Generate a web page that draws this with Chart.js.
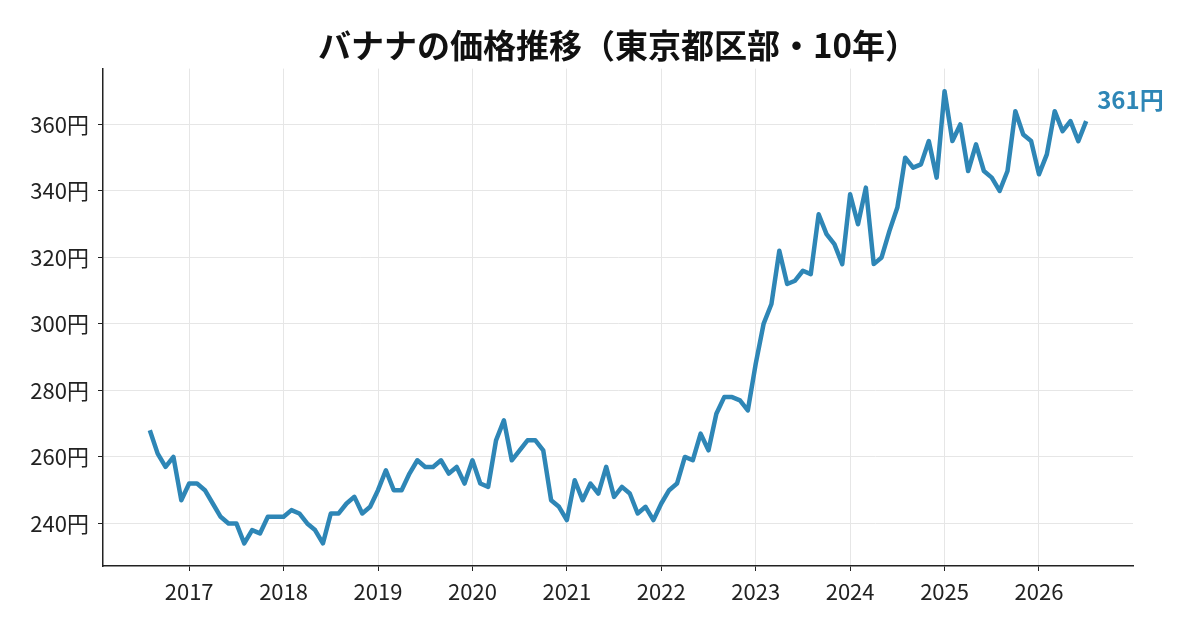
<!DOCTYPE html>
<html lang="ja">
<head>
<meta charset="utf-8">
<title>バナナの価格推移</title>
<script src="https://cdn.jsdelivr.net/npm/chart.js@4.4.1/dist/chart.umd.min.js"></script>
<style>
  html, body { margin: 0; padding: 0; background: #fff; }
  #wrap { width: 1200px; height: 630px; }
</style>
</head>
<body>
<div id="wrap"><canvas id="chart" width="1200" height="630"></canvas></div>
<script>
// monthly price, Aug 2016 .. Jul 2026 (yen)
const startYear = 2016;
const startMonth = 8;
const prices = [
  268, 261, 257, 260, 247,                                   // 2016 Aug-Dec
  252, 252, 250, 246, 242, 240, 240, 234, 238, 237, 242, 242, // 2017
  242, 244, 243, 240, 238, 234, 243, 243, 246, 248, 243, 245, // 2018
  250, 256, 250, 250, 255, 259, 257, 257, 259, 255, 257, 252, // 2019
  259, 252, 251, 265, 271, 259, 262, 265, 265, 262, 247, 245, // 2020
  241, 253, 247, 252, 249, 257, 248, 251, 249, 243, 245, 241, // 2021
  246, 250, 252, 260, 259, 267, 262, 273, 278, 278, 277, 274, // 2022
  288, 300, 306, 322, 312, 313, 316, 315, 333, 327, 324, 318, // 2023
  339, 330, 341, 318, 320, 328, 335, 350, 347, 348, 355, 344, // 2024
  370, 355, 360, 346, 354, 346, 344, 340, 346, 364, 357, 355, // 2025
  345, 351, 364, 358, 361, 355, 361                           // 2026 Jan-Jul
];
const yearTicks = [2017, 2018, 2019, 2020, 2021, 2022, 2023, 2024, 2025, 2026];
const priceTicks = [240, 260, 280, 300, 320, 340, 360];

const lineColor = "#2e86b6";
const fontFamily = "'Noto Sans CJK JP', 'Noto Sans', sans-serif";

// month index -> decimal year
const points = prices.map((p, i) => ({
  x: startYear + (startMonth - 1 + i) / 12,
  y: p
}));

// 5% margins like the original plot
const xFirst = points[0].x, xLast = points[points.length - 1].x;
const yLow = Math.min(...prices), yHigh = Math.max(...prices);
const xPad = (xLast - xFirst) * 0.05;
const yPad = (yHigh - yLow) * 0.05;

const endLabel = {
  id: "endLabel",
  afterDatasetsDraw(chart) {
    const meta = chart.getDatasetMeta(0);
    const last = meta.data[meta.data.length - 1];
    const ctx = chart.ctx;
    ctx.save();
    ctx.font = "bold 24px " + fontFamily;
    ctx.fillStyle = lineColor;
    ctx.textBaseline = "middle";
    ctx.fillText(prices[prices.length - 1] + "円", last.x + 11, last.y - 21);
    ctx.restore();
  }
};

new Chart(document.getElementById("chart"), {
  type: "line",
  plugins: [endLabel],
  data: {
    datasets: [
      {
        data: points,
        borderColor: lineColor,
        borderWidth: 4.5,
        pointRadius: 0,
        tension: 0,
        borderJoinStyle: "round",
      },
    ],
  },
  options: {
    responsive: false,
    animation: false,
    layout: { padding: { left: 0, right: 67, top: 0, bottom: 0 } },
    plugins: {
      legend: { display: false },
      tooltip: { enabled: false },
      title: {
        display: true,
        text: "バナナの価格推移（東京都区部・10年）",
        color: "#111",
        fullSize: false,
        font: { family: fontFamily, size: 33, weight: "bold", lineHeight: 1.2 },
        padding: { top: 26, bottom: 3 },
      },
    },
    scales: {
      x: {
        type: "linear",
        min: xFirst - xPad,
        max: xLast + xPad,
        afterBuildTicks: (scale) => {
          scale.ticks = yearTicks.map((v) => ({ value: v }));
        },
        afterFit: (scale) => {
          scale.height = 64;
        },
        grid: { color: "#e6e6e6", lineWidth: 1, tickColor: "#222", tickLength: 5 },
        border: { color: "#222", width: 1.5 },
        ticks: {
          color: "#222",
          padding: 7,
          maxRotation: 0,
          font: { family: fontFamily, size: 22 },
          callback: (v) => String(v),
        },
      },
      y: {
        type: "linear",
        min: yLow - yPad,
        max: yHigh + yPad,
        afterBuildTicks: (scale) => {
          scale.ticks = priceTicks.map((v) => ({ value: v }));
        },
        afterFit: (scale) => {
          scale.width = 103;
        },
        grid: { color: "#e6e6e6", lineWidth: 1, tickColor: "#222", tickLength: 5 },
        border: { color: "#222", width: 1.5 },
        ticks: {
          color: "#222",
          padding: 9,
          font: { family: fontFamily, size: 22 },
          callback: (v) => v + "円",
        },
      },
    },
  },
});
</script>
</body>
</html>
